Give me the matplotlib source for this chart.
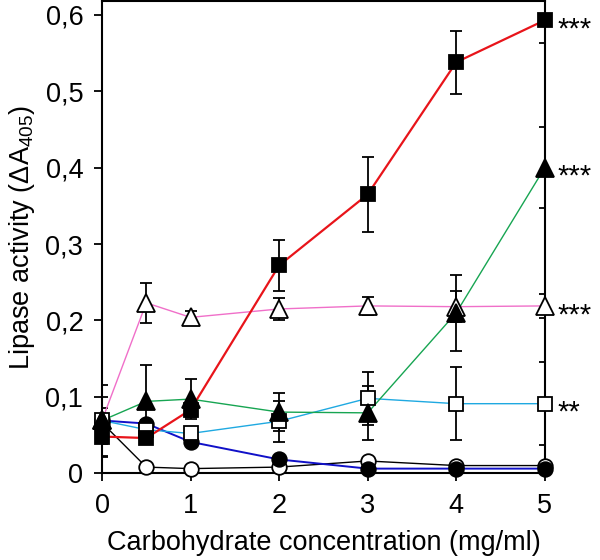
import matplotlib
matplotlib.use("Agg")
import matplotlib.pyplot as plt

plt.rcParams['font.family'] = ['Liberation Sans', 'DejaVu Sans']
plt.rcParams['mathtext.fontset'] = 'custom'
plt.rcParams['mathtext.rm'] = 'Liberation Sans'
plt.rcParams['mathtext.it'] = 'Liberation Sans:italic'

conc = [0, 0.5, 1, 2, 3, 4, 5]

red_y = [0.048, 0.046, 0.083, 0.272, 0.365, 0.538, 0.593]
red_e = [0.027, 0.005, 0.010, 0.033, 0.049, 0.041, 0.030]

green_y = [0.069, 0.094, 0.097, 0.080, 0.079, 0.210, 0.400]
green_e = [0.047, 0.047, 0.026, 0.025, 0.035, 0.050, 0.053]

pink_y = [0.069, 0.223, 0.204, 0.215, 0.219, 0.218, 0.219]
pink_e = [0.016, 0.026, 0.008, 0.015, 0.012, 0.020, 0.016]

cyan_y = [0.069, 0.057, 0.052, 0.068, 0.098, 0.091, 0.091]
cyan_e = [0.031, 0.008, 0.008, 0.027, 0.035, 0.048, 0.054]

blue_y = [0.069, 0.065, 0.041, 0.018, 0.006, 0.006, 0.006]
blue_e = [0.005, 0.005, 0.005, 0.004, 0.003, 0.003, 0.003]

black_y = [0.066, 0.008, 0.006, 0.008, 0.016, 0.010, 0.010]
black_e = [0.004, 0.003, 0.003, 0.003, 0.003, 0.003, 0.003]

stars = ['***', '***', '***', '**']
star_y = [red_y[-1], green_y[-1], pink_y[-1], cyan_y[-1]]

xticks = [0, 1, 2, 3, 4, 5]
xticklabels = ['0', '1', '2', '3', '4', '5']
yticks = [0, 0.1, 0.2, 0.3, 0.4, 0.5, 0.6]
yticklabels = ['0', '0,1', '0,2', '0,3', '0,4', '0,5', '0,6']

fig = plt.figure(figsize=(6, 5.6), dpi=100)
ax = fig.add_axes([0.17, 0.155, 0.738, 0.843])

series = [
    (black_y, black_e, 'black', 'o', 'white', 1.0, 10.5),
    (blue_y, blue_e, '#1010c8', 'o', 'black', 1.4, 10.5),
    (cyan_y, cyan_e, '#1fa9e1', 's', 'white', 1.0, 10.5),
    (pink_y, pink_e, '#f06fc9', '^', 'white', 1.0, 13),
    (green_y, green_e, '#17a552', '^', 'black', 1.0, 13),
    (red_y, red_e, '#e8141a', 's', 'black', 1.6, 10.5),
]

for ys, es, col, mk, mfc, lw, ms in series:
    ax.errorbar(conc, ys, yerr=es, fmt='none', ecolor='black', elinewidth=1.3,
                capsize=4, capthick=1.3, zorder=2)

for i, (ys, es, col, mk, mfc, lw, ms) in enumerate(series):
    ax.plot(conc, ys, color=col, lw=lw, zorder=3 + i)
    ax.plot(conc, ys, linestyle='none', marker=mk, ms=ms, mfc=mfc, mec='black',
            mew=1.3, zorder=10 + i, clip_on=False)

for s, yv in zip(stars, star_y):
    ax.annotate(s, xy=(5, yv), xytext=(9, -12.5), textcoords='offset points',
                fontsize=21, ha='left', va='baseline', annotation_clip=False)

ax.set_xlim(0, 5)
ax.set_ylim(0, 0.618)
ax.set_xticks(xticks)
ax.set_xticklabels(xticklabels)
ax.set_yticks(yticks)
ax.set_yticklabels(yticklabels)
ax.tick_params(axis='both', direction='out', length=5.5, width=1.3, labelsize=19.5)
ax.tick_params(axis='x', pad=9)
ax.tick_params(axis='y', pad=8)
for sp in ax.spines.values():
    sp.set_linewidth(1.5)

ax.set_xlabel('Carbohydrate concentration (mg/ml)', fontsize=19.5, labelpad=8)
ax.set_ylabel('Lipase activity (ΔA$_{405}$)', fontsize=19.5, labelpad=6)

fig.savefig('out.png', dpi=100)
